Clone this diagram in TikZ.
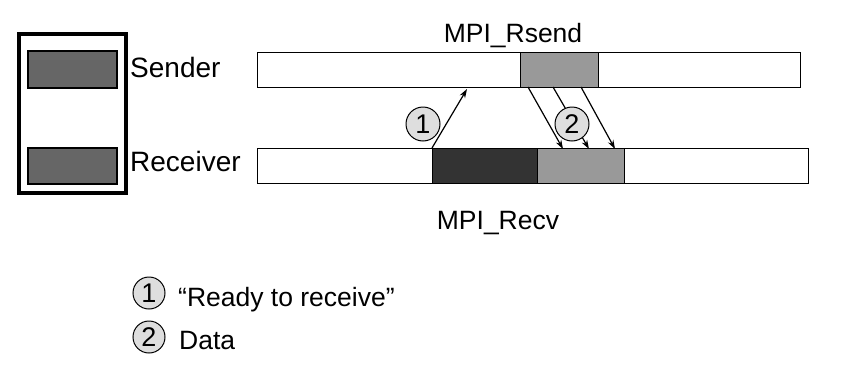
\documentclass[tikz,border=0pt]{standalone}
\usepackage{fontspec}
\setmainfont{Liberation Sans}
\usetikzlibrary{arrows.meta}
\begin{document}
\begin{tikzpicture}[x=1pt,y=-1pt,
  lbl/.style={font=\fontsize{26.5}{30}\selectfont, inner sep=0pt},
  big/.style={font=\fontsize{28}{32}\selectfont, inner sep=0pt},
  bar/.style={draw=black, line width=1pt, fill=white, inner sep=0pt},
  blk/.style={draw=black, line width=1pt, inner sep=0pt},
  num/.style={circle, draw=black, line width=1pt, fill=black!13, minimum size=34pt, inner sep=0pt, font=\fontsize{27}{30}\selectfont},
  msg/.style={line width=1.2pt, -{Stealth[length=9pt,width=6pt]}},
  key/.style={draw=black, line width=1.2pt, fill=black!60}]
\useasboundingbox (0,0) rectangle (844,386);
% process legend box
\draw[line width=3.2pt] (19,34) rectangle (126,193);
\draw[key] (28,51) rectangle (117,88);
\draw[key] (28,148) rectangle (117,184);
\node[big, anchor=base west] (snd) at (130,77) {Sender};
\node[big, anchor=base west] (rcv) at (130,171) {Receiver};
% timelines
\draw[bar] (257,52) rectangle (800,87);
\draw[bar] (257,148) rectangle (808,183);
\draw[blk, fill=black!40] (520,52) rectangle (598,87);
\draw[blk, fill=black!80] (432,148) rectangle (537,183);
\draw[blk, fill=black!40] (537,148) rectangle (624,183);
\node[lbl, anchor=base] (rsend) at (513,42) {MPI\_Rsend};
\node[lbl, anchor=base] (recv) at (498,229) {MPI\_Recv};
% messages
\coordinate (r0) at (432,148);
\coordinate (s0) at (467,89);
\draw[msg] (r0) -- (s0);
\coordinate (d1a) at (528,87); \coordinate (d1b) at (563,149);
\coordinate (d2a) at (553,87); \coordinate (d2b) at (589,149);
\coordinate (d3a) at (581,87); \coordinate (d3b) at (615,149);
\draw[msg] (d1a) -- (d1b);
\draw[msg] (d2a) -- (d2b);
\draw[msg] (d3a) -- (d3b);
\node[num] (n1) at (423,124) {1};
\node[num] (n2) at (572,124) {2};
% key
\node[num, minimum size=32pt] (k1) at (149,293) {1};
\node[lbl, anchor=base west] (t1) at (178,306) {“Ready to receive”};
\node[num, minimum size=32pt] (k2) at (149,337) {2};
\node[lbl, anchor=base west] (t2) at (179,349) {Data};
\end{tikzpicture}
\end{document}
